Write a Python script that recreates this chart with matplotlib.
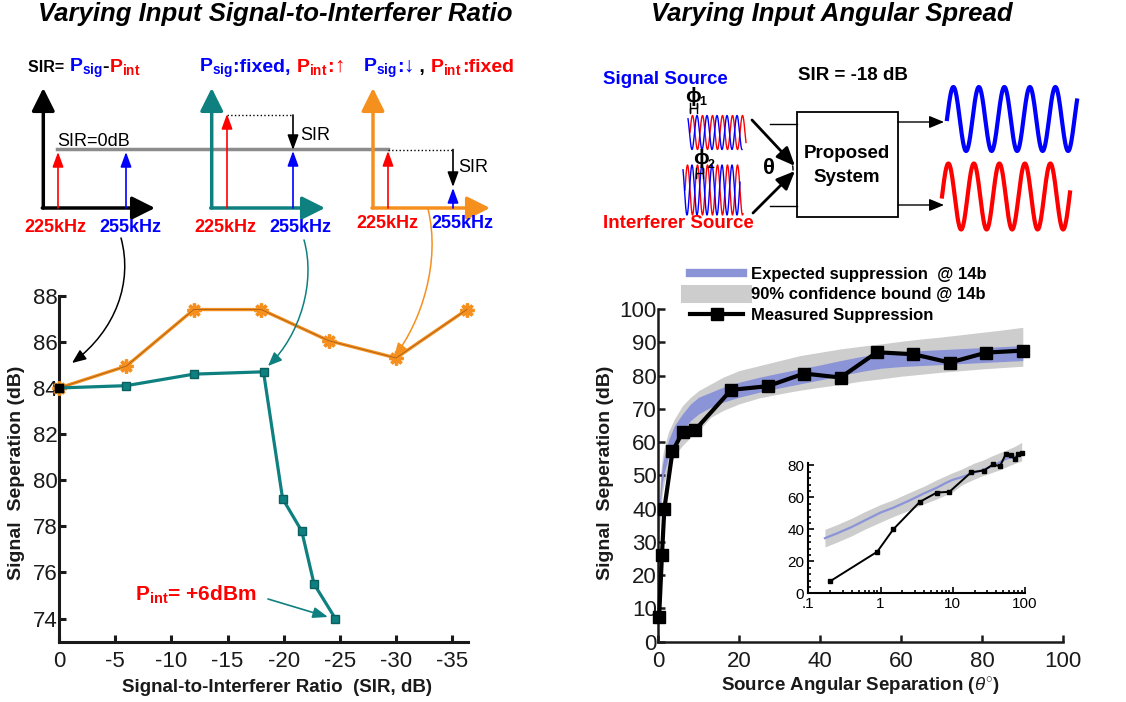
import numpy as np
import matplotlib
matplotlib.use("Agg")
import matplotlib.pyplot as plt
from matplotlib.patches import FancyArrowPatch, Rectangle, Arc
from matplotlib.path import Path
from matplotlib.lines import Line2D
from matplotlib.offsetbox import TextArea, HPacker, AnchoredOffsetbox
from matplotlib.ticker import MultipleLocator, FixedLocator, LogLocator, NullFormatter

plt.rcParams["font.family"] = ["Liberation Sans", "DejaVu Sans"]
plt.rcParams["mathtext.fontset"] = "custom"
plt.rcParams["mathtext.rm"] = "Liberation Sans"
plt.rcParams["mathtext.it"] = "Liberation Sans:italic"
plt.rcParams["mathtext.bf"] = "Liberation Sans:bold"

# ---- left panel: signal separation vs SIR ----
sir_orange = [0, -6, -12, -18, -24, -30, -36.3]
sep_orange = [84.0, 84.95, 87.4, 87.4, 86.05, 85.3, 87.4]
sir_teal = [0, -6, -12, -18.2, -19.9, -21.6, -22.7, -24.6]
sep_teal = [84.0, 84.1, 84.6, 84.7, 79.2, 77.8, 75.5, 74.0]
left_xticks = [0, -5, -10, -15, -20, -25, -30, -35]
left_yticks = [74, 76, 78, 80, 82, 84, 86, 88]

# ---- right panel: signal separation vs angular separation ----
meas_x = [0.2, 0.9, 1.5, 3.5, 6, 9, 18, 27, 36, 45, 54, 63, 72, 81, 90]
meas_y = [7.5, 26, 40, 57.2, 63, 63.5, 75.7, 76.8, 80.6, 79.4, 87, 86.4, 83.9, 86.9, 87.5]
exp_x = [0.17, 0.25, 0.4, 0.6, 1, 1.5, 2.5, 4, 6, 8, 10, 13, 16, 20, 25, 30, 35,
         40, 45, 50, 55, 60, 65, 70, 75, 80, 85, 90]
exp_mid = [34.5, 37.5, 41.5, 45.5, 50.5, 53.5, 58, 62.5, 66, 69, 71, 72.5, 74, 75.5,
           77, 78.3, 79.5, 80.7, 82, 83.2, 84.2, 84.7, 85, 85.3, 85.6, 85.9, 86.2, 86.5]
exp_lo = [32, 35, 39, 43, 48, 51, 55.5, 60, 63.5, 66.5, 68.5, 70.5, 72, 73.5, 75, 76.3,
          77.5, 78.7, 80, 81.2, 82.2, 82.7, 83, 83.3, 83.6, 83.9, 84.2, 84.5]
exp_hi = [37, 40, 44, 48, 53, 56, 60.5, 65, 68.5, 71.5, 73.5, 75, 76.5, 78, 79.5, 80.8,
          82, 83.2, 84.5, 85.7, 86.7, 87.2, 87.5, 87.8, 88.1, 88.4, 88.7, 89]
conf_lo = [29, 32, 36, 40, 44.5, 48, 52, 56, 59, 61.5, 63.5, 67.5, 69.5, 71.5, 73.3,
           74.5, 75.6, 76.5, 77.3, 78.3, 79, 79.8, 80.4, 81, 81.5, 82, 82.4, 82.8]
conf_hi = [40, 43, 47, 51, 55.5, 58.5, 63, 67, 71, 73.5, 75.5, 77.5, 79.5, 81.5, 83,
           84.5, 86, 87, 88, 88.8, 89.5, 90.3, 91, 91.6, 92.3, 93, 93.7, 94.5]
legend_labels = ["Expected suppression  @ 14b", "90% confidence bound @ 14b",
                 "Measured Suppression"]
inset_xticks = [0.1, 1, 10, 100]
inset_xlabels = [".1", "1", "10", "100"]

ORANGE = "#F5901E"
TEAL = "#0E8080"
BLUE = "#8C94D8"
GRAY = "#CDCDCD"
W, H = 1126, 702


def frac(l, t, r, b):
    return [l / W, 1 - b / H, (r - l) / W, (b - t) / H]


fig = plt.figure(figsize=(W / 100, H / 100), dpi=100)
ax1 = fig.add_axes(frac(59, 295.7, 468, 641.7))
ax2 = fig.add_axes(frac(658.3, 309, 1063.3, 641.7))
ax3 = fig.add_axes(frac(808.3, 463, 1025, 593.3))
ov = fig.add_axes([0, 0, 1, 1])
ov.set_xlim(0, W)
ov.set_ylim(H, 0)
ov.axis("off")

# ---------------- left plot ----------------
ax1.plot(sir_orange, sep_orange, color=ORANGE, lw=2.4, marker=(8, 2, 0), ms=10,
         mew=2.4, mec=ORANGE, clip_on=False, zorder=3)
ax1.plot(sir_orange, sep_orange, color="#8a4a12", lw=0.6, alpha=0.7, clip_on=False, zorder=4)
ax1.plot(sir_teal, sep_teal, color=TEAL, lw=2.3, marker="s", ms=5.5, mec="#0a6060",
         clip_on=False, zorder=3)
ax1.plot(sir_teal[:1], sep_teal[:1], "s", color="k", ms=6, clip_on=False, zorder=5)
ax1.set_xlim(0, -36.4)
ax1.set_ylim(73, 88)
ax1.set_xticks(left_xticks)
ax1.set_xticklabels([str(v) for v in left_xticks])
ax1.set_yticks(left_yticks)

# ---------------- right plot ----------------
ax2.fill_between(exp_x, conf_lo, conf_hi, color=GRAY, lw=0, zorder=1)
ax2.fill_between(exp_x, exp_lo, exp_hi, color=BLUE, lw=0, zorder=2)
ax2.plot(meas_x, meas_y, color="k", lw=3, marker="s", ms=8, clip_on=False, zorder=4)
ax2.set_xlim(0, 100)
ax2.set_ylim(0, 100)
ax2.set_xticks(range(0, 101, 20))
ax2.set_yticks(range(0, 101, 10))

for ax, lw in ((ax1, 2.2), (ax2, 1.8)):
    ax.set_facecolor("none")
    for s in ("top", "right"):
        ax.spines[s].set_visible(False)
    for s in ("left", "bottom"):
        ax.spines[s].set_linewidth(lw)
        ax.spines[s].set_color("#1a1a1a")
    ax.tick_params(direction="in", length=5, width=lw, labelsize=16,
                   labelcolor="#1a1a1a", color="#1a1a1a")
    ax.tick_params(axis="x", pad=7)
    ax.tick_params(axis="y", pad=1)

# ---------------- inset ----------------
ax3.set_facecolor("none")
ax3.set_xscale("log")
ax3.fill_between(exp_x, conf_lo, conf_hi, color=GRAY, lw=0, clip_on=False, zorder=1)
ax3.plot(exp_x, exp_mid, color=BLUE, lw=1.6, clip_on=False, zorder=2)
ax3.plot(meas_x, meas_y, color="k", lw=1.4, marker="s", ms=3.5, clip_on=False, zorder=3)
ax3.set_xlim(0.1, 100)
ax3.set_ylim(0, 81.5)
ax3.xaxis.set_major_locator(FixedLocator(inset_xticks))
ax3.set_xticklabels(inset_xlabels)
ax3.xaxis.set_minor_locator(LogLocator(base=10, subs=np.arange(2, 10)))
ax3.xaxis.set_minor_formatter(NullFormatter())
ax3.set_yticks([0, 20, 40, 60, 80])
ax3.yaxis.set_minor_locator(MultipleLocator(4))
for s in ("top", "right"):
    ax3.spines[s].set_visible(False)
for s in ("left", "bottom"):
    ax3.spines[s].set_linewidth(1.5)
ax3.tick_params(which="both", direction="in", width=1.2, labelsize=11, pad=3)
ax3.tick_params(which="major", length=4)
ax3.tick_params(which="minor", length=2)

# legend
handles = [Line2D([], [], color=BLUE, lw=6),
           Line2D([], [], color=GRAY, lw=13),
           Line2D([], [], color="k", lw=3, marker="s", ms=8)]
fig.legend(handles, legend_labels, loc="upper left",
           bbox_to_anchor=(690 / W, 1 - 267 / H), frameon=False,
           prop=dict(weight="bold", size=12), handlelength=3.2, handletextpad=0.45,
           labelspacing=0.33, borderpad=0, borderaxespad=0)

# ---------------- titles and axis labels ----------------
ov.text(275, 21, "Varying Input Signal-to-Interferer Ratio", ha="center", va="baseline",
        fontsize=18.5, fontweight="bold", fontstyle="italic")
ov.text(832, 21, "Varying Input Angular Spread", ha="center", va="baseline",
        fontsize=18.5, fontweight="bold", fontstyle="italic")
ov.text(277, 687, "Signal-to-Interferer Ratio  (SIR, dB)", ha="center", va="center",
        fontsize=13.5, fontweight="bold", color="#1a1a1a")
ov.text(17, 473, "Signal  Seperation (dB)", ha="center", va="center", rotation=90,
        fontsize=14, fontweight="bold", color="#1a1a1a")
ov.text(860, 687, r"Source Angular Separation ($\theta^{\circ}$)", ha="center", va="center",
        fontsize=13.5, fontweight="bold", color="#1a1a1a")
ov.text(605, 473, "Signal  Seperation (dB)", ha="center", va="center", rotation=90,
        fontsize=14, fontweight="bold", color="#1a1a1a")
ov.text(135, 595, r"P$_{\mathbf{int}}$= +6dBm", ha="left", va="center",
        fontsize=15, fontweight="bold", color="r")


# ---------------- helpers for the sketches ----------------
def arrow(p0, p1, color="k", lw=1.2, hl=0.6, hw=0.22, ms=15):
    ov.annotate("", xy=p1, xytext=p0,
                arrowprops=dict(arrowstyle=f"-|>,head_length={hl},head_width={hw}",
                                color=color, lw=lw, mutation_scale=ms,
                                shrinkA=0, shrinkB=0))


def rich(x, y, parts):
    boxes = [TextArea(s, textprops=dict(color=c, fontsize=sz, fontweight="bold"))
             for s, c, sz in parts]
    pack = HPacker(children=boxes, align="baseline", pad=0, sep=0)
    ov.add_artist(AnchoredOffsetbox(loc="center left", child=pack, pad=0, borderpad=0,
                                    frameon=False, bbox_to_anchor=(x, y),
                                    bbox_transform=ov.transData))


def curve(pts, color):
    path = Path(pts, [Path.MOVETO, Path.CURVE4, Path.CURVE4, Path.CURVE4])
    ov.add_patch(FancyArrowPatch(path=path, arrowstyle="-|>,head_length=0.6,head_width=0.25",
                                 color=color, lw=1.1, mutation_scale=14))


def wave(x0, x1, yc, amp, period, phase, color, lw):
    xs = np.linspace(x0, x1, 300)
    ov.plot(xs, yc - amp * np.sin(2 * np.pi * (xs - x0) / period + phase), color=color, lw=lw)


# ---------------- spectrum sketches (top left) ----------------
big = dict(lw=2.5, hl=0.7, hw=0.35, ms=20)
for x0, xr, col in ((43.3, 155, "k"), (211.7, 325, TEAL), (373, 490, ORANGE)):
    arrow((x0, 208), (x0, 88), color=col, **big)
    arrow((x0 - 1, 208), (xr, 208), color=col, **big)

ov.plot([57, 388], [149.3, 149.3], color="#8c8c8c", lw=2.5, zorder=1)
ov.text(57, 146, "SIR=0dB", fontsize=13, va="baseline")
arrow((58, 208), (58, 152), "r")
arrow((126, 208), (126, 152), "b")

arrow((227, 208), (227, 114), "r")
ov.plot([227, 293], [115, 115], "k:", lw=1)
arrow((293, 115), (293, 150), "k")
arrow((293, 208), (293, 151), "b")
ov.text(300, 135, "SIR", fontsize=13, va="center")

arrow((388, 208), (388, 151), "r")
ov.plot([388, 453], [149.5, 149.5], "k:", lw=1)
arrow((453, 149.5), (453, 187), "k")
arrow((453, 208), (453, 188), "b")
ov.text(458, 167, "SIR", fontsize=13, va="center")

for x, y, s, c in ((55, 227, "225kHz", "r"), (130, 227, "255kHz", "b"),
                   (225, 227, "225kHz", "r"), (300, 227, "255kHz", "b"),
                   (387, 223, "225kHz", "r"), (462, 223, "255kHz", "b")):
    ov.text(x, y, s, color=c, ha="center", va="center", fontsize=13, fontweight="bold")

PS = r"P$_{\mathbf{sig}}$"
PI = r"P$_{\mathbf{int}}$"
rich(28, 68, [("SIR= ", "k", 11.5), (PS, "b", 14), ("-", "k", 14), (PI, "r", 14)])
rich(199, 68, [(PS, "b", 14), (":fixed, ", "b", 14), (PI, "r", 14), (":", "r", 14),
               ("\u2191", "r", 15)])
rich(363, 68, [(PS, "b", 14), (":", "b", 14), ("\u2193", "b", 15), (" , ", "k", 14),
               (PI, "r", 14), (":fixed", "r", 14)])

# curved pointers into the left plot
curve([(121, 238), (133, 282), (116, 330), (72, 363)], "k")
curve([(304, 240), (316, 282), (300, 335), (268, 366)], TEAL)
curve([(428, 209), (441, 262), (421, 322), (394, 357)], ORANGE)
arrow((268, 599), (328, 617), TEAL, lw=1.2)

# ---------------- system sketch (top right) ----------------
ov.text(603, 79, "Signal Source", color="b", fontsize=13.5, fontweight="bold", va="center")
ov.text(603, 224, "Interferer Source", color="r", fontsize=13.5, fontweight="bold",
        va="center")
ov.text(798, 76, "SIR = -18 dB", color="k", fontsize=13.5, fontweight="bold", va="center")
ov.add_patch(Rectangle((797, 112.3), 101, 104.4, fill=False, ec="k", lw=1.3))
ov.text(847, 154, "Proposed", ha="center", va="center", fontsize=13.5, fontweight="bold")
ov.text(847, 178, "System", ha="center", va="center", fontsize=13.5, fontweight="bold")
ov.plot([770, 797], [124, 124], "k", lw=1)
ov.plot([770, 797], [206, 206], "k", lw=1)
arrow((898, 122), (944, 122), "k", lw=1, hw=0.25)
arrow((898, 205), (944, 205), "k", lw=1, hw=0.25)

wave(947, 1077, 119, 32, 25.5, 0.0, "b", 3)
wave(942, 1070, 196.5, 33, 25.5, 0.0, "r", 3)
wave(690, 746, 132.5, 17, 10, 0.0, "r", 1)
wave(688, 742, 132.5, 17, 10, 2.2, "b", 1)
wave(685, 743, 190, 25, 10, 0.0, "r", 1)
wave(683, 740, 190, 25, 10, 2.2, "b", 1)

# phase markers
ov.text(693, 97, "\u03d5", fontsize=15, fontweight="bold", ha="center", va="center")
ov.text(703, 102, "1", fontsize=9, fontweight="bold", ha="center", va="center")
ov.plot([690, 690, 690, 697, 697, 697], [103, 113, 108, 108, 103, 113], "k", lw=1)
ov.text(701, 158, "\u03d5", fontsize=15, fontweight="bold", ha="center", va="center")
ov.text(711, 165, "2", fontsize=9, fontweight="bold", ha="center", va="center")
ov.plot([696, 696, 696, 703, 703, 703], [168, 178, 173, 173, 168, 178], "k", lw=1)

arrow((752, 120), (795, 166), "k", lw=2, hl=0.7, hw=0.3, ms=16)
arrow((753, 213), (795, 171), "k", lw=2, hl=0.7, hw=0.3, ms=16)
ov.text(769, 168, "\u03b8", fontsize=16, fontweight="bold", ha="center", va="center")
ov.add_patch(Arc((783, 169), 20, 24, theta1=-95, theta2=95, ls="--", lw=1, color="k"))

fig.savefig("out.png", dpi=100)
